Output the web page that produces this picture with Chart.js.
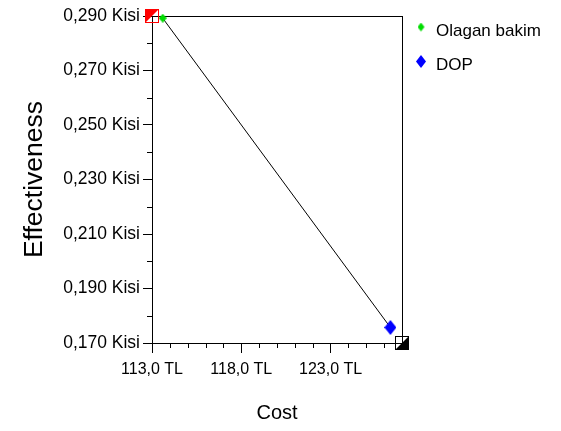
<!DOCTYPE html>
<html>
<head>
<meta charset="utf-8">
<script src="https://cdn.jsdelivr.net/npm/chart.js@4/dist/chart.umd.min.js"></script>
<style>
  html, body { margin: 0; padding: 0; background: #ffffff; }
  #wrap { width: 561px; height: 431px; position: relative; }
</style>
</head>
<body>
<div id="wrap"><canvas id="c"></canvas></div>
<script>
// ---- data ----
const categories = ['Olagan bakim', 'DOP'];
const costValues = [113.60, 126.35];
const effValues = [0.2892, 0.1757];
const seriesColors = ['#00dd00', '#0000ff'];

const xTickValues = [113, 118, 123];
const xTickLabels = ['113,0 TL', '118,0 TL', '123,0 TL'];
const xMinorValues = [114, 115, 116, 117, 119, 120, 121, 122, 124, 125, 126, 127];

const yTickValues = [0.17, 0.19, 0.21, 0.23, 0.25, 0.27, 0.29];
const yTickLabels = ['0,170 Kisi', '0,190 Kisi', '0,210 Kisi', '0,230 Kisi', '0,250 Kisi', '0,270 Kisi', '0,290 Kisi'];
const yMinorValues = [0.18, 0.20, 0.22, 0.24, 0.26, 0.28];

const cornerX = [113, 127];
const cornerY = [0.290, 0.170];

const xRange = [113, 127];
const yRange = [0.170, 0.290];

// ---- marker images ----
function diamond(w, h, color, padRight, padBottom) {
  const c = document.createElement('canvas');
  c.width = w + padRight; c.height = h + padBottom;
  const g = c.getContext('2d');
  g.fillStyle = color;
  g.beginPath();
  g.moveTo(w / 2, 0); g.lineTo(w, h / 2); g.lineTo(w / 2, h); g.lineTo(0, h / 2);
  g.closePath(); g.fill();
  return c;
}
function halfSquare(size, color, upperLeft) {
  const c = document.createElement('canvas');
  c.width = size; c.height = size;
  const g = c.getContext('2d');
  g.fillStyle = color;
  g.beginPath();
  if (upperLeft) { g.moveTo(0, 0); g.lineTo(size, 0); g.lineTo(0, size); }
  else { g.moveTo(size, 0); g.lineTo(size, size); g.lineTo(0, size); }
  g.closePath(); g.fill();
  g.strokeStyle = color; g.lineWidth = 1;
  g.strokeRect(0.5, 0.5, size - 1, size - 1);
  return c;
}
const chartMarks = [diamond(8, 9, seriesColors[0], 0, 0), diamond(12, 15, seriesColors[1], 0, 0)];
const legendMarks = [diamond(7, 9, seriesColors[0], 5, 8), diamond(10, 13, seriesColors[1], 5, 8)];
const cornerMarks = [halfSquare(14, '#ff0000', true), halfSquare(14, '#000000', false)];

const fontFam = '"Liberation Sans", Arial, sans-serif';

const minorTicks = {
  id: 'minorTicks',
  afterDraw(chart) {
    const ctx = chart.ctx;
    const xs = chart.scales.x, ys = chart.scales.y;
    ctx.save();
    ctx.strokeStyle = '#000'; ctx.lineWidth = 1;
    ctx.beginPath();
    xMinorValues.forEach(v => {
      const px = Math.round(xs.getPixelForValue(v)) + 0.5;
      ctx.moveTo(px, xs.top); ctx.lineTo(px, xs.top + 5);
    });
    yMinorValues.forEach(v => {
      const py = Math.round(ys.getPixelForValue(v)) + 0.5;
      ctx.moveTo(ys.right, py); ctx.lineTo(ys.right - 5, py);
    });
    ctx.stroke();
    ctx.restore();
  }
};

const legendWidth = {
  id: 'legendWidth',
  beforeLayout(chart) {
    const lg = chart.legend;
    if (lg && !lg._patched) {
      const orig = lg.fit.bind(lg);
      lg.fit = function () { orig(); this.width = 159; };
      lg._patched = true;
    }
  }
};

new Chart(document.getElementById('c'), {
  type: 'scatter',
  data: {
    datasets: [
      { label: categories[0], data: [{ x: costValues[0], y: effValues[0] }],
        pointStyle: chartMarks[0], backgroundColor: seriesColors[0], borderColor: seriesColors[0], clip: false },
      { label: categories[1], data: [{ x: costValues[1], y: effValues[1] }],
        pointStyle: chartMarks[1], backgroundColor: seriesColors[1], borderColor: seriesColors[1], clip: false },
      { label: 'frontier', data: costValues.map((v, i) => ({ x: v, y: effValues[i] })),
        showLine: true, borderColor: '#000000', borderWidth: 1, pointRadius: 0, pointHoverRadius: 0 },
      { label: 'corners', data: cornerX.map((v, i) => ({ x: v, y: cornerY[i] })),
        pointStyle: cornerMarks, clip: false }
    ]
  },
  options: {
    responsive: true,
    maintainAspectRatio: false,
    animation: false,
    events: [],
    layout: { padding: { top: 5, left: 0, right: 0, bottom: 0 } },
    plugins: {
      tooltip: { enabled: false },
      legend: {
        position: 'right',
        align: 'start',
        labels: {
          usePointStyle: true,
          boxWidth: 8,
          padding: 17.5,
          color: '#000000',
          font: { family: fontFam, size: 17 },
          generateLabels(chart) {
            return categories.map((t, i) => ({
              text: t, datasetIndex: i, pointStyle: legendMarks[i],
              fillStyle: seriesColors[i], strokeStyle: seriesColors[i], lineWidth: 0, hidden: false
            }));
          }
        }
      }
    },
    scales: {
      x: {
        type: 'linear', position: 'bottom', min: xRange[0], max: xRange[1],
        afterBuildTicks(s) { s.ticks = xTickValues.map(v => ({ value: v })); },
        afterFit(s) { s.height = 88; },
        ticks: {
          color: '#000000', padding: 7, maxRotation: 0, autoSkip: false,
          font: { family: fontFam, size: 16 },
          callback(v, i) { return xTickLabels[i]; }
        },
        grid: { drawOnChartArea: false, tickLength: 10, color: '#000000', tickColor: '#000000' },
        border: { color: '#000000', width: 1 },
        title: { display: true, text: 'Cost', color: '#000000', font: { family: fontFam, size: 20 }, padding: { top: 0, bottom: 6 } }
      },
      y: {
        type: 'linear', position: 'left', min: yRange[0], max: yRange[1],
        afterBuildTicks(s) { s.ticks = yTickValues.map(v => ({ value: v })); },
        afterFit(s) { s.width = 152; },
        ticks: {
          color: '#000000', padding: 3, autoSkip: false,
          font: { family: fontFam, size: 17.5 },
          callback(v, i) { return yTickLabels[i]; }
        },
        grid: { drawOnChartArea: false, tickLength: 9, color: '#000000', tickColor: '#000000' },
        border: { color: '#000000', width: 1 },
        title: { display: true, text: 'Effectiveness', color: '#000000', font: { family: fontFam, size: 26.5 }, padding: { top: 19, bottom: 0 } }
      },
      x2: {
        type: 'linear', position: 'top', min: xRange[0], max: xRange[1],
        afterFit(s) { s.height = 11; },
        ticks: { display: false },
        grid: { display: false, drawTicks: false },
        border: { display: true, color: '#000000', width: 1 }
      },
      y2: {
        type: 'linear', position: 'right', min: yRange[0], max: yRange[1],
        afterFit(s) { s.width = 0; },
        ticks: { display: false },
        grid: { display: false, drawTicks: false },
        border: { display: true, color: '#000000', width: 1 }
      }
    }
  },
  plugins: [minorTicks, legendWidth]
});
</script>
</body>
</html>
